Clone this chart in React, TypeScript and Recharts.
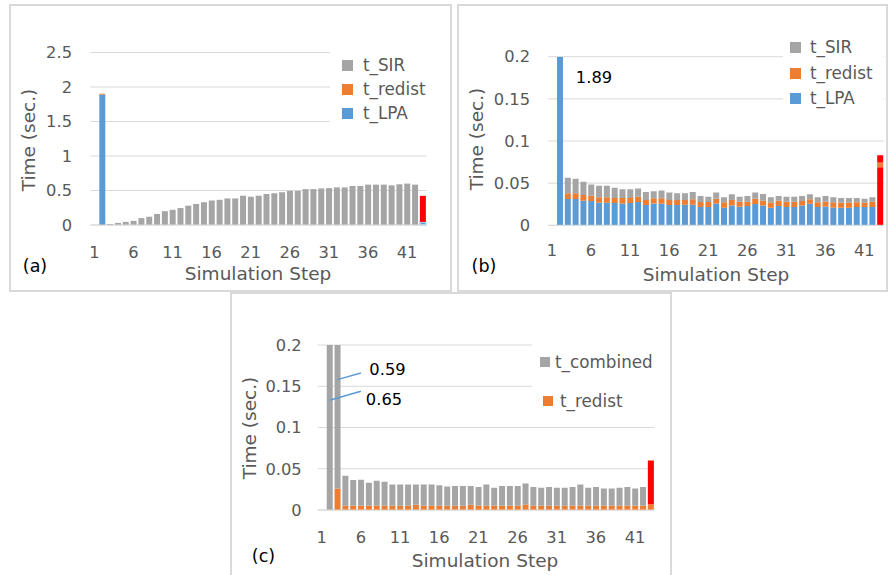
import React from 'react';
import { BarChart, Bar, XAxis, YAxis, CartesianGrid, Legend, ReferenceLine, Cell } from 'recharts';

const steps = [1,2,3,4,5,6,7,8,9,10,11,12,13,14,15,16,17,18,19,20,21,22,23,24,25,26,27,28,29,30,31,32,33,34,35,36,37,38,39,40,41,42,43];

// (a)
const aLPA = [0,1.89,0,0,0,0,0,0,0,0,0,0,0,0,0,0,0,0,0,0,0,0,0,0,0,0,0,0,0,0,0,0,0,0,0,0,0,0,0,0,0,0,0.045];
const aRedist = [0,0.012,0,0,0,0,0,0,0,0,0,0,0,0,0,0,0,0,0,0,0,0,0,0,0,0,0,0,0,0,0,0,0,0,0,0,0,0,0,0,0,0,0];
const aSIR = [0,0,0.015,0.03,0.045,0.06,0.1,0.12,0.16,0.2,0.22,0.245,0.28,0.305,0.33,0.355,0.365,0.385,0.385,0.425,0.41,0.425,0.45,0.46,0.475,0.495,0.495,0.52,0.52,0.53,0.535,0.545,0.545,0.565,0.565,0.585,0.585,0.585,0.575,0.59,0.6,0.585,0.378];

// (b)
const bLPA = [0,1.89,0.0312,0.0312,0.0292,0.0288,0.0268,0.0268,0.0264,0.026,0.0264,0.0276,0.024,0.026,0.0256,0.024,0.024,0.0244,0.0244,0.0216,0.0216,0.026,0.0208,0.0236,0.022,0.0228,0.0252,0.0236,0.0208,0.0228,0.0216,0.0216,0.0236,0.0256,0.0216,0.0224,0.0208,0.0208,0.0208,0.0216,0.0216,0.0216,0.069];
const bRedist = [0,0,0.0068,0.0068,0.0068,0.0064,0.0064,0.0064,0.006,0.0064,0.006,0.0064,0.006,0.006,0.0064,0.006,0.006,0.0056,0.0064,0.006,0.006,0.0056,0.0064,0.0064,0.006,0.0052,0.0064,0.0056,0.006,0.0064,0.0064,0.0064,0.0052,0.0052,0.0056,0.0056,0.0064,0.006,0.006,0.0056,0.0052,0.0064,0.0055];
const bSIR = [0,0,0.0184,0.0172,0.0156,0.0132,0.0136,0.0136,0.012,0.0104,0.0104,0.0096,0.0096,0.0084,0.0092,0.0088,0.008,0.008,0.0088,0.0072,0.0064,0.0072,0.006,0.0068,0.006,0.0068,0.0072,0.008,0.0064,0.0056,0.006,0.006,0.006,0.006,0.006,0.0068,0.006,0.0056,0.0056,0.0052,0.0048,0.0052,0.0085];

// (c)
const cRedist = [0,0,0.026,0.0053,0.0053,0.0053,0.0053,0.0053,0.0053,0.0053,0.0053,0.0053,0.0065,0.0053,0.0053,0.0053,0.0053,0.0053,0.0053,0.0065,0.0053,0.0053,0.0053,0.0053,0.0053,0.0053,0.0065,0.0053,0.0053,0.0053,0.0053,0.0053,0.0053,0.0053,0.0053,0.0053,0.0053,0.0053,0.0053,0.0053,0.0053,0.0053,0.007];
const cCombined = [0,0.65,0.564,0.0363,0.031,0.0314,0.0277,0.0302,0.029,0.0257,0.0257,0.0257,0.0245,0.0257,0.0257,0.0247,0.0233,0.0237,0.0237,0.0225,0.0227,0.0257,0.0217,0.0237,0.0237,0.0237,0.0255,0.0227,0.0217,0.0227,0.0217,0.0217,0.0227,0.0257,0.0217,0.0227,0.0207,0.0207,0.0217,0.0227,0.0207,0.0227,0.053];

const ticksA = [0, 0.5, 1, 1.5, 2, 2.5];
const ticksBC = [0, 0.05, 0.1, 0.15, 0.2];
const highlightStep = 43;

const BLUE = '#5B9BD5';
const ORANGE = '#ED7D31';
const GRAY = '#A5A5A5';
const RED = '#FF0000';
const GRID = '#D9D9D9';
const TXT = '#595959';
const FONT = "'DejaVu Sans', sans-serif";

const dataA = steps.map((s, i) => ({ step: s, lpa: aLPA[i], redist: aRedist[i], sir: aSIR[i] }));
const dataB = steps.map((s, i) => ({ step: s, lpa: bLPA[i], redist: bRedist[i], sir: bSIR[i] }));
const dataC = steps.map((s, i) => ({ step: s, redist: cRedist[i], combined: cCombined[i] }));

const tickStyle = { fill: TXT, fontSize: 16.3, fontFamily: FONT };

const Txt = ({ x, y, children, color = TXT, size = 18.5, rotate = false }: any) => (
  <div
    style={{
      position: 'absolute',
      left: x,
      top: y,
      transform: `translate(-50%,-50%)${rotate ? ' rotate(-90deg)' : ''}`,
      fontFamily: FONT,
      fontSize: size,
      color,
      whiteSpace: 'nowrap',
      lineHeight: 1,
    }}
  >
    {children}
  </div>
);

type LegItem = { name: string; color: string; sx: number; tx: number; cy: number; size: number };

const makeLegend = (items: LegItem[], w: number, h: number) => () => (
  <div style={{ position: 'relative', width: w, height: h, background: '#fff' }}>
    {items.map((it) => (
      <div
        key={it.name}
        style={{
          position: 'absolute',
          left: it.sx,
          top: it.cy - 10,
          height: 20,
          display: 'flex',
          alignItems: 'center',
          fontFamily: FONT,
          fontSize: 16.8,
          color: TXT,
          whiteSpace: 'nowrap',
        }}
      >
        <span
          style={{
            display: 'inline-block',
            width: it.size,
            height: it.size,
            background: it.color,
            marginRight: it.tx - it.sx - it.size,
          }}
        />
        {it.name}
      </div>
    ))}
  </div>
);

const legendA = makeLegend(
  [
    { name: 't_SIR', color: GRAY, sx: 12, tx: 33, cy: 27, size: 11 },
    { name: 't_redist', color: ORANGE, sx: 12, tx: 33, cy: 51, size: 11 },
    { name: 't_LPA', color: BLUE, sx: 12, tx: 33, cy: 75, size: 11 },
  ],
  105,
  95
);
const legendB = makeLegend(
  [
    { name: 't_SIR', color: GRAY, sx: 7, tx: 27, cy: 12, size: 11 },
    { name: 't_redist', color: ORANGE, sx: 7, tx: 27, cy: 38, size: 11 },
    { name: 't_LPA', color: BLUE, sx: 7, tx: 27, cy: 63, size: 11 },
  ],
  100,
  95
);
const legendC = makeLegend(
  [
    { name: 't_combined', color: GRAY, sx: 8, tx: 23, cy: 27, size: 10 },
    { name: 't_redist', color: ORANGE, sx: 11, tx: 28, cy: 66, size: 10 },
  ],
  124,
  80
);

const fillFor = (step: number, base: string, redHere: boolean) => (step === highlightStep && redHere ? RED : base);

const Box = ({ left, top, width, height }: any) => (
  <div
    style={{
      position: 'absolute',
      left,
      top,
      width,
      height,
      border: `2px solid ${GRID}`,
      boxSizing: 'border-box',
    }}
  />
);

export default function App() {
  return (
    <div style={{ position: 'absolute', left: 0, top: 0, width: 888, height: 575, overflow: 'hidden', background: '#fff' }}>
      <Box left={9} top={4} width={443} height={288} />
      <Box left={457} top={4} width={431} height={288} />
      <Box left={230} top={292} width={442} height={290} />

      {/* (a) */}
      <div style={{ position: 'absolute', left: 10, top: 5 }}>
        <BarChart width={441} height={286} data={dataA} margin={{ top: 47.5, right: 24.4, bottom: 26, left: 0 }} barCategoryGap="14%">
          <CartesianGrid vertical={false} stroke={GRID} />
          <XAxis dataKey="step" interval={4} tickLine={false} tickSize={0} tickMargin={21.2} height={40} axisLine={{ stroke: GRID }} tick={tickStyle} />
          <YAxis domain={[0, 2.5]} ticks={ticksA} width={80.4} axisLine={false} tickLine={false} tickSize={0} tickMargin={18.4} tick={tickStyle} />
          <Bar dataKey="lpa" stackId="s" fill={BLUE} isAnimationActive={false}>
            {dataA.map((d) => (
              <Cell key={d.step} fill={BLUE} stroke={d.step === highlightStep ? '#BDD7EE' : 'none'} strokeWidth={1.5} />
            ))}
          </Bar>
          <Bar dataKey="redist" stackId="s" fill={ORANGE} isAnimationActive={false} />
          <Bar dataKey="sir" stackId="s" fill={GRAY} isAnimationActive={false}>
            {dataA.map((d) => (
              <Cell key={d.step} fill={fillFor(d.step, GRAY, true)} />
            ))}
          </Bar>
          <Legend layout="vertical" align="center" verticalAlign="middle" content={legendA} wrapperStyle={{ left: 320, top: 33, width: 105, height: 95 }} />
        </BarChart>
      </div>
      <Txt x={29} y={140} rotate>Time (sec.)</Txt>
      <Txt x={258} y={274}>Simulation Step</Txt>
      <Txt x={35} y={267} color="#000" size={17.5}>(a)</Txt>

      {/* (b) */}
      <div style={{ position: 'absolute', left: 458, top: 5 }}>
        <BarChart width={430} height={286} data={dataB} margin={{ top: 51.7, right: 4.1, bottom: 25.7, left: 0 }} barCategoryGap="14%">
          <CartesianGrid vertical={false} stroke={GRID} />
          <XAxis dataKey="step" interval={4} tickLine={false} tickSize={0} tickMargin={19.4} height={40} axisLine={{ stroke: GRID }} tick={tickStyle} />
          <YAxis domain={[0, 0.2]} ticks={ticksBC} allowDataOverflow width={90.1} axisLine={false} tickLine={false} tickSize={0} tickMargin={18} tick={tickStyle} />
          <Bar dataKey="lpa" stackId="s" fill={BLUE} isAnimationActive={false}>
            {dataB.map((d) => (
              <Cell key={d.step} fill={fillFor(d.step, BLUE, true)} />
            ))}
          </Bar>
          <Bar dataKey="redist" stackId="s" fill={ORANGE} isAnimationActive={false} />
          <Bar dataKey="sir" stackId="s" fill={GRAY} isAnimationActive={false}>
            {dataB.map((d) => (
              <Cell key={d.step} fill={fillFor(d.step, GRAY, true)} />
            ))}
          </Bar>
          <Legend layout="vertical" align="center" verticalAlign="middle" content={legendB} wrapperStyle={{ left: 325, top: 30, width: 100, height: 95 }} />
        </BarChart>
      </div>
      <Txt x={476.5} y={139} rotate>Time (sec.)</Txt>
      <Txt x={716} y={275}>Simulation Step</Txt>
      <Txt x={484} y={267} color="#000" size={17.5}>(b)</Txt>
      <Txt x={594} y={77.5} color="#000" size={16.3}>1.89</Txt>

      {/* (c) */}
      <div style={{ position: 'absolute', left: 231, top: 293 }}>
        <BarChart width={439} height={282} data={dataC} margin={{ top: 52, right: 15.4, bottom: 25, left: 0 }} barCategoryGap="14%">
          <CartesianGrid vertical={false} stroke={GRID} />
          <XAxis dataKey="step" interval={4} tickLine={false} tickSize={0} tickMargin={21} height={40} axisLine={{ stroke: GRID }} tick={tickStyle} />
          <YAxis domain={[0, 0.2]} ticks={ticksBC} allowDataOverflow width={86.8} axisLine={false} tickLine={false} tickSize={0} tickMargin={16.1} tick={tickStyle} />
          <Bar dataKey="redist" stackId="s" fill={ORANGE} isAnimationActive={false} />
          <Bar dataKey="combined" stackId="s" fill={GRAY} isAnimationActive={false}>
            {dataC.map((d) => (
              <Cell key={d.step} fill={fillFor(d.step, GRAY, true)} />
            ))}
          </Bar>
          <ReferenceLine segment={[{ x: 3, y: 0.158 }, { x: 6, y: 0.166 }]} stroke={BLUE} strokeWidth={1.5} ifOverflow="visible" />
          <ReferenceLine segment={[{ x: 2, y: 0.133 }, { x: 6, y: 0.144 }]} stroke={BLUE} strokeWidth={1.5} ifOverflow="visible" />
          <Legend layout="vertical" align="center" verticalAlign="middle" content={legendC} wrapperStyle={{ left: 301, top: 42, width: 124, height: 80 }} />
        </BarChart>
      </div>
      <Txt x={250} y={428} rotate>Time (sec.)</Txt>
      <Txt x={485} y={561}>Simulation Step</Txt>
      <Txt x={263.5} y={556.5} color="#000" size={17.5}>(c)</Txt>
      <Txt x={387.5} y={370} color="#000" size={16.3}>0.59</Txt>
      <Txt x={384} y={399.5} color="#000" size={16.3}>0.65</Txt>
    </div>
  );
}
